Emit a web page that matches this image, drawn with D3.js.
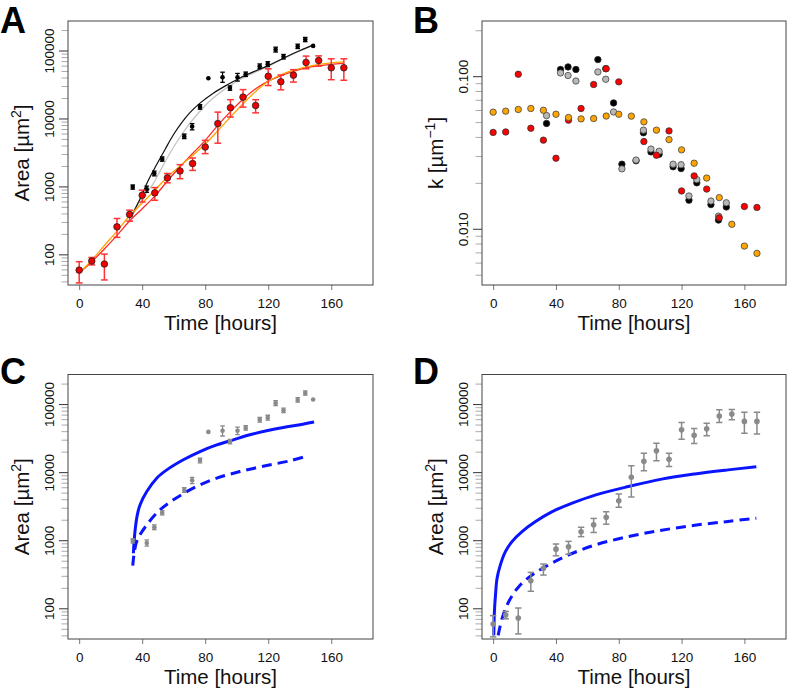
<!DOCTYPE html>
<html>
<head>
<meta charset="utf-8">
<script src="https://cdn.jsdelivr.net/npm/d3@7.9.0/dist/d3.min.js"></script>
<style>
  body { margin: 0; background: #fff; }
  svg { display: block; }
</style>
</head>
<body>
<svg id="fig" width="787" height="690"></svg>
<script>
/* =====================================================
   Four-panel growth figure (A-D)
   A: area vs time, two lineages + fits
   B: k vs time (log)
   C, D: data in gray with model curves (blue)
   ===================================================== */

/* --- Panel A: black lineage (mean area, error bars) --- */
const blackTime = [34, 42.9, 47.7, 52.7, 66.7, 71.7, 76.7, 82, 91, 95.7, 100.5, 105.7, 114.6, 119.7, 124.7, 129.7, 138.7, 143.5, 148.5];
const blackArea = [980, 910, 1550, 2530, 5450, 7600, 14800, 39000, 40500, 28000, 40500, 44700, 58800, 63000, 103000, 81000, 115000, 145000, 117000];
const blackLow  = [910, 820, 1430, 2350, 5050, 6800, 13700, 39000, 34000, 26000, 35500, 41500, 54500, 58000, 95000, 75000, 107000, 135000, 117000];
const blackHigh = [1050, 1010, 1680, 2720, 5900, 8400, 16000, 39000, 48000, 30200, 46000, 48200, 63500, 68500, 112000, 87500, 124000, 156000, 117000];

/* --- Panel A: red lineage --- */
const redTime = [0, 8, 16, 24, 32, 40, 48, 56, 64, 72, 80, 88, 96, 104, 112, 120, 128, 136, 144, 152, 160, 168];
const redArea = [58.6, 79.7, 72, 254, 386, 740, 803, 1335, 1690, 2170, 3800, 8400, 14400, 20600, 15500, 41800, 34700, 43400, 66700, 71400, 55700, 55700];
const redLow  = [38, 70, 42, 178, 308, 590, 625, 1130, 1300, 1720, 3040, 4330, 10500, 14700, 12100, 30500, 26400, 34300, 53800, 59000, 37200, 36500];
const redHigh = [78, 90, 101, 337, 447, 880, 962, 1550, 2090, 2620, 4760, 12400, 18900, 26600, 18900, 53800, 43600, 52300, 82800, 83400, 75600, 75600];

/* --- Panel A: fitted curves --- */
const fitBlackTime = [33.5, 38.6, 43.9, 49.2, 54.5, 59.7, 65.1, 70.3, 76.7, 85.1, 93.7, 102.1, 110.5, 119, 129.6, 140.2, 148.6];
const fitBlackArea = [380, 650, 1230, 2100, 3500, 5700, 8700, 12200, 16800, 23500, 31000, 39500, 48500, 58500, 77000, 100000, 121000];
const fitGrayTime  = [33.5, 38.6, 43, 47, 52, 57.7, 63, 68.3, 73.5, 78.8, 84, 89.4, 98.9, 110.5, 119, 129.6, 140.2, 148.6];
const fitGrayArea  = [380, 540, 820, 1100, 1800, 3100, 4900, 7400, 10500, 14500, 19000, 24000, 34000, 46500, 57000, 76000, 99000, 120000];
const fitRedTime   = [0, 8, 16, 24, 32, 40, 48, 56, 64, 72, 80, 88, 96, 104, 112, 120, 128, 136, 144, 152, 160, 168];
const fitRedArea   = [53, 78, 120, 190, 310, 470, 720, 1200, 1950, 3050, 4770, 7900, 12600, 19200, 27300, 35500, 42600, 49500, 55500, 59500, 62500, 64500];
const fitOrangeArea = [53, 82, 135, 220, 370, 570, 880, 1380, 2000, 2850, 4200, 6600, 10500, 16500, 25000, 35000, 44000, 51000, 57500, 62500, 66000, 68000];

/* --- Panel B: k per time point --- */
const kBlack  = [0.049, 0.1107, 0.115, 0.1107, 0.1285, 0.112, 0.0668, 0.0265, 0.0279, 0.0426, 0.0319, 0.0308, 0.0255, 0.0248, 0.0154, 0.0200, 0.0144, 0.0114, 0.0139];
const kGray   = [0.0552, 0.105, 0.101, 0.093, 0.1066, 0.0955, 0.0583, 0.0247, 0.0282, 0.0443, 0.0333, 0.0322, 0.0265, 0.0263, 0.0164, 0.0210, 0.0152, 0.0121, 0.0148];
const kRedTime = [0, 8, 16, 24, 32, 40, 48, 56, 64, 72, 80, 96, 104, 112, 120, 128, 136, 144, 160, 168];
const kRed    = [0.0428, 0.0431, 0.103, 0.0456, 0.0381, 0.0290, 0.0515, 0.0614, 0.0882, 0.112, 0.0918, 0.0373, 0.0303, 0.0438, 0.0177, 0.0222, 0.0182, 0.0118, 0.0140, 0.0138];
const kOrange = [0.0581, 0.0590, 0.0605, 0.0614, 0.0598, 0.0563, 0.0536, 0.0525, 0.0528, 0.0548, 0.0563, 0.0547, 0.0502, 0.0443, 0.0384, 0.0329, 0.0269, 0.0215, 0.0160, 0.0107, 0.0077, 0.0069];

/* --- Panel C: model curves (blue) --- */
const modelCTime  = [34.4, 35.4, 36.9, 38.6, 42.9, 49.2, 55.6, 66.1, 76.7, 87.3, 97.8, 108.4, 119, 129.6, 140.2, 149.1];
const modelCSolid = [644, 1340, 2360, 3300, 5190, 8160, 10800, 15200, 20100, 25100, 29800, 35400, 40500, 45300, 49600, 54400];
const modelCDashTime = [34, 36.5, 42.9, 51.3, 59.8, 72.4, 87.3, 102.1, 119, 134, 143.4];
const modelCDash     = [423, 955, 1680, 2790, 3920, 5820, 8160, 10200, 12500, 14700, 16900];

/* --- Panel D: model curves (blue) --- */
const modelDTime  = [0.4, 0.8, 1.5, 2.5, 4.6, 7.8, 12, 18.4, 27, 37.6, 50.3, 65.4, 86.1, 107.3, 128.4, 149.6, 167.6];
const modelDSolid = [40, 89, 157, 276, 434, 680, 955, 1340, 1880, 2630, 3500, 4640, 6150, 7900, 9400, 10800, 12000];
const modelDDashTime = [3.2, 5.7, 9.9, 16.3, 24.8, 35.3, 48, 65, 86.1, 107.3, 128.4, 149.6, 167.6];
const modelDDash     = [40, 71, 125, 208, 309, 434, 608, 852, 1130, 1400, 1660, 1890, 2110];

/* --- Axis ticks / labels --- */
const timeTicks = [0, 40, 80, 120, 160];
const areaMajor = [100, 1000, 10000, 100000];
const areaMajorLabels = ['100', '1000', '10000', '100000'];
const kMajor = [0.01, 0.1];
const kMajorLabels = ['0.010', '0.100'];

/* --- Layout --- */
const FONT = '"Liberation Sans", Arial, Helvetica, sans-serif';
const svg = d3.select('#fig');
const boxes = {
  A: { x0: 68,  x1: 373, y0: 21,    y1: 285 },
  B: { x0: 482, x1: 786, y0: 21,    y1: 285 },
  C: { x0: 68,  x1: 373, y0: 374.5, y1: 639 },
  D: { x0: 482, x1: 786, y0: 374.5, y1: 639 }
};

// minor log ticks 2..9 per decade inside a range
function logMinors(lo, hi) {
  const out = [];
  for (let e = Math.floor(Math.log10(lo)); e <= Math.ceil(Math.log10(hi)); e++) {
    for (let m = 2; m <= 9; m++) {
      const v = m * Math.pow(10, e);
      if (v >= lo * 0.999 && v <= hi * 1.001) out.push(v);
    }
  }
  return out;
}

const makeX = (b) => d3.scaleLinear().domain([-7.1, 186.5]).range([b.x0, b.x1]);
const makeAreaY = (b) => d3.scaleLog().domain([35.4, 272000]).range([b.y1, b.y0]);
const makeKY = (b) => d3.scaleLog().domain([0.00428, 0.230]).range([b.y1, b.y0]);


/* --- Frame, axes, titles --- */
function drawFrame(key, b, x, y, majors, labels, minors, yTitle, ySup) {
  const g = svg.append('g');

  // panel letter
  g.append('text')
    .attr('x', key === 'A' || key === 'C' ? 0 : 413)
    .attr('y', key === 'A' || key === 'B' ? 33 : b.y0 + 9.5)
    .attr('font-family', FONT).attr('font-weight', 'bold').attr('font-size', 36)
    .attr('fill', '#000')
    .text(key);

  // x axis
  const xa = g.append('g').attr('transform', `translate(0,${b.y1})`)
    .call(d3.axisBottom(x).tickValues(timeTicks).tickSize(5).tickFormat(d => d));
  xa.select('.domain').remove();
  xa.selectAll('line').attr('stroke', '#777');
  xa.selectAll('text')
    .attr('y', 23).attr('dy', 0)
    .attr('font-family', FONT).attr('font-size', 13.5).attr('fill', '#111');

  // y minor ticks
  const ym = g.append('g').attr('transform', `translate(${b.x0},0)`)
    .call(d3.axisLeft(y).tickValues(minors).tickSize(6.5).tickFormat(''));
  ym.select('.domain').remove();
  ym.selectAll('line').attr('stroke', '#aaa');

  // y major ticks with rotated labels
  const yM = g.append('g').attr('transform', `translate(${b.x0},0)`)
    .call(d3.axisLeft(y).tickValues(majors).tickSize(9).tickFormat((d, i) => labels[i]));
  yM.select('.domain').remove();
  yM.selectAll('line').attr('stroke', '#333');
  yM.selectAll('text')
    .attr('transform', 'rotate(-90)')
    .attr('x', 0).attr('y', -14.5).attr('dy', 0)
    .attr('text-anchor', 'middle')
    .attr('font-family', FONT).attr('font-size', 13.5).attr('fill', '#111');

  // box
  g.append('rect')
    .attr('x', b.x0).attr('y', b.y0)
    .attr('width', b.x1 - b.x0).attr('height', b.y1 - b.y0)
    .attr('fill', 'none').attr('stroke', '#444').attr('stroke-width', 1);

  // x title
  g.append('text')
    .attr('x', (b.x0 + b.x1) / 2).attr('y', b.y1 + 45)
    .attr('text-anchor', 'middle')
    .attr('font-family', FONT).attr('font-size', 20.5).attr('fill', '#111')
    .text('Time [hours]');

  // y title with superscript
  const yt = g.append('text')
    .attr('transform', `translate(${b.x0 - 39.3},${(b.y0 + b.y1) / 2}) rotate(-90)`)
    .attr('text-anchor', 'middle')
    .attr('font-family', FONT).attr('font-size', 20.5).attr('fill', '#111');
  yt.append('tspan').text(yTitle);
  yt.append('tspan').attr('dy', -8).attr('font-size', 14).text(ySup);
  yt.append('tspan').attr('dy', 8).text(']');

  // clip for curves
  svg.append('clipPath').attr('id', 'clip' + key)
    .append('rect')
    .attr('x', b.x0).attr('y', b.y0)
    .attr('width', b.x1 - b.x0).attr('height', b.y1 - b.y0);

  return svg.append('g').attr('clip-path', `url(#clip${key})`);
}

/* --- Mark helpers --- */
function curve(g, x, y, t, v, color, width, dash) {
  const line = d3.line()
    .x(i => x(t[i]))
    .y(i => y(v[i]))
    .curve(d3.curveCatmullRom.alpha(0.5));
  g.append('path')
    .attr('d', line(d3.range(t.length)))
    .attr('fill', 'none')
    .attr('stroke', color)
    .attr('stroke-width', width)
    .attr('stroke-dasharray', dash || null);
}

function errorBars(g, x, y, t, lo, hi, color, width, cap) {
  t.forEach((ti, i) => {
    if (lo[i] === hi[i]) return;
    const cx = x(ti);
    g.append('line').attr('x1', cx).attr('x2', cx)
      .attr('y1', y(lo[i])).attr('y2', y(hi[i]))
      .attr('stroke', color).attr('stroke-width', width);
    [lo[i], hi[i]].forEach(v => {
      g.append('line').attr('x1', cx - cap).attr('x2', cx + cap)
        .attr('y1', y(v)).attr('y2', y(v))
        .attr('stroke', color).attr('stroke-width', width);
    });
  });
}

function dots(g, x, y, t, v, fill, stroke, r) {
  g.selectAll(null)
    .data(d3.range(t.length))
    .enter()
    .append('circle')
    .attr('cx', i => x(t[i]))
    .attr('cy', i => y(v[i]))
    .attr('r', r)
    .attr('fill', fill)
    .attr('stroke', stroke)
    .attr('stroke-width', stroke === 'none' ? 0 : 0.8);
}


/* --- Panel A --- */
{
  const b = boxes.A, x = makeX(b), y = makeAreaY(b);
  const g = drawFrame('A', b, x, y, areaMajor, areaMajorLabels, logMinors(40, 200000), 'Area [µm', '2');
  curve(g, x, y, fitGrayTime, fitGrayArea, '#c4c4c4', 1.3);
  curve(g, x, y, fitBlackTime, fitBlackArea, '#111', 1.2);
  curve(g, x, y, fitRedTime, fitRedArea, '#ff2a2a', 1.3);
  curve(g, x, y, fitRedTime, fitOrangeArea, '#ffa200', 1.3);
  errorBars(g, x, y, blackTime, blackLow, blackHigh, '#000', 1.3, 2.3);
  dots(g, x, y, blackTime, blackArea, '#000', 'none', 2.3);
  errorBars(g, x, y, redTime, redLow, redHigh, '#ff3333', 1.5, 3.4);
  dots(g, x, y, redTime, redArea, '#ee0000', '#222', 3.3);
}

/* --- Panel B --- */
{
  const b = boxes.B, x = makeX(b), y = makeKY(b);
  const g = drawFrame('B', b, x, y, kMajor, kMajorLabels, logMinors(0.005, 0.2), 'k [µm', '\u22121');
  dots(g, x, y, blackTime, kBlack, '#000', '#222', 3.2);
  dots(g, x, y, blackTime, kGray, '#b8b8b8', '#444', 3.2);
  dots(g, x, y, kRedTime, kRed, '#ff0000', '#333', 3.2);
  dots(g, x, y, redTime, kOrange, '#ffa500', '#444', 3.2);
}

/* --- Panel C --- */
{
  const b = boxes.C, x = makeX(b), y = makeAreaY(b);
  const g = drawFrame('C', b, x, y, areaMajor, areaMajorLabels, logMinors(40, 200000), 'Area [µm', '2');
  curve(g, x, y, modelCTime, modelCSolid, '#0a14ff', 3);
  curve(g, x, y, modelCDashTime, modelCDash, '#0a14ff', 3, '10,6');
  errorBars(g, x, y, blackTime, blackLow, blackHigh, '#8a8a8a', 1.3, 2.3);
  dots(g, x, y, blackTime, blackArea, '#8a8a8a', 'none', 2.3);
}

/* --- Panel D --- */
{
  const b = boxes.D, x = makeX(b), y = makeAreaY(b);
  const g = drawFrame('D', b, x, y, areaMajor, areaMajorLabels, logMinors(40, 200000), 'Area [µm', '2');
  curve(g, x, y, modelDTime, modelDSolid, '#0a14ff', 3);
  curve(g, x, y, modelDDashTime, modelDDash, '#0a14ff', 3, '10,6');
  errorBars(g, x, y, redTime, redLow, redHigh, '#8a8a8a', 1.5, 3.2);
  dots(g, x, y, redTime, redArea, '#8a8a8a', 'none', 2.8);
}
</script>
</body>
</html>
